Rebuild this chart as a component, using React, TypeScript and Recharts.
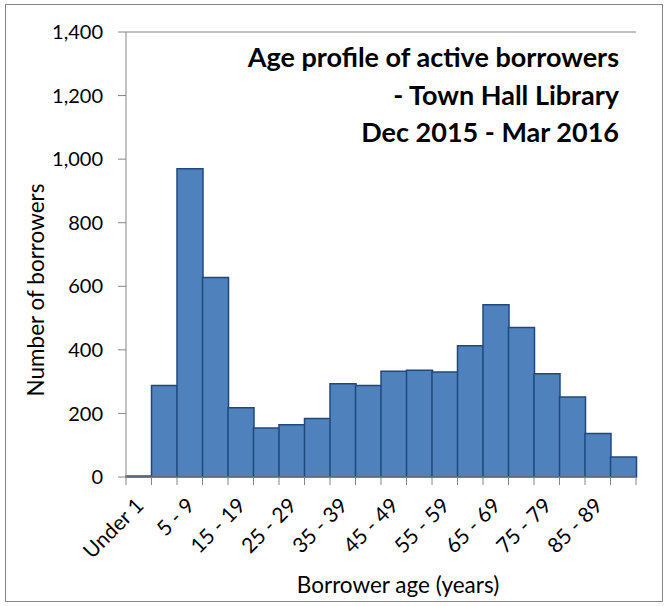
import React from 'react';
import { BarChart, Bar, XAxis, YAxis, ReferenceLine } from 'recharts';

const ageBands = [
  'Under 1', '1 - 4', '5 - 9', '10 - 14', '15 - 19', '20 - 24', '25 - 29',
  '30 - 34', '35 - 39', '40 - 44', '45 - 49', '50 - 54', '55 - 59', '60 - 64',
  '65 - 69', '70 - 74', '75 - 79', '80 - 84', '85 - 89', '90+',
];
const borrowers = [3, 288, 970, 628, 218, 154, 164, 184, 293, 288, 333, 336, 330, 413, 542, 470, 325, 252, 137, 63];
const yTicks = [0, 200, 400, 600, 800, 1000, 1200, 1400];
const titleLines = ['Age profile of active borrowers', '- Town Hall Library', 'Dec 2015 - Mar 2016'];

const data = ageBands.map((band, i) => ({ band, count: borrowers[i] }));

const FONT = 'Lato, "Open Sans", sans-serif';
const GRAY = '#868686';
const HALF_BAND = 12.75;

function AgeTick(props: any) {
  const { x, y, index, payload } = props;
  const last = index === ageBands.length - 1;
  const tx = x + 6;
  const ty = y + 30;
  return (
    <g>
      <line x1={x - HALF_BAND} y1={y} x2={x - HALF_BAND} y2={y + 8} stroke={GRAY} />
      {last && <line x1={x + HALF_BAND} y1={y} x2={x + HALF_BAND} y2={y + 8} stroke={GRAY} />}
      {index % 2 === 0 && (
        <text
          x={tx}
          y={ty}
          transform={`rotate(-45, ${tx}, ${ty})`}
          textAnchor="end"
          fontSize={21}
          fontFamily={FONT}
          fill="#000"
        >
          {payload.value}
        </text>
      )}
    </g>
  );
}

export default function App() {
  return (
    <div style={{ position: 'absolute', left: 0, top: 0, width: 670, height: 606, background: '#fff' }}>
      <div style={{ position: 'absolute', left: 5, top: 4, width: 658, height: 598, border: `1px solid ${GRAY}`, boxSizing: 'border-box' }} />
      <div style={{ position: 'absolute', left: 0, top: 0 }}>
        <BarChart width={670} height={606} data={data} margin={{ top: 32, right: 34, bottom: 0, left: 0 }} barCategoryGap={0}>
          <XAxis
            dataKey="band"
            interval={0}
            height={129}
            tickSize={0}
            tickMargin={0}
            tickLine={false}
            axisLine={{ stroke: GRAY }}
            tick={<AgeTick />}
          />
          <YAxis
            domain={[0, 1400]}
            ticks={yTicks}
            width={126}
            tickSize={8}
            tickMargin={15}
            tickFormatter={(v: number) => v.toLocaleString('en-US')}
            tick={{ fill: '#000', fontSize: 20, fontFamily: FONT }}
            axisLine={{ stroke: GRAY }}
            tickLine={{ stroke: GRAY }}
          />
          <YAxis yAxisId="right" orientation="right" width={0} domain={[0, 1400]} tick={false} tickLine={false} axisLine={{ stroke: GRAY }} />
          <ReferenceLine y={1400} stroke={GRAY} />
          <Bar dataKey="count" fill="#4F81BD" stroke="#1F497D" strokeWidth={1.5} isAnimationActive={false} />
          {titleLines.map((line, i) => (
            <text key={line} x={619} y={67 + i * 37.5} textAnchor="end" fontSize={27} fontWeight="bold" fontFamily={FONT} fill="#000">
              {line}
            </text>
          ))}
          <text x={35} y={290} transform="rotate(-90, 35, 290)" textAnchor="middle" dominantBaseline="central" fontSize={22.5} fontFamily={FONT} fill="#000">
            Number of borrowers
          </text>
          <text x={398} y={593} textAnchor="middle" fontSize={22.5} fontFamily={FONT} fill="#000">
            Borrower age (years)
          </text>
        </BarChart>
      </div>
    </div>
  );
}
